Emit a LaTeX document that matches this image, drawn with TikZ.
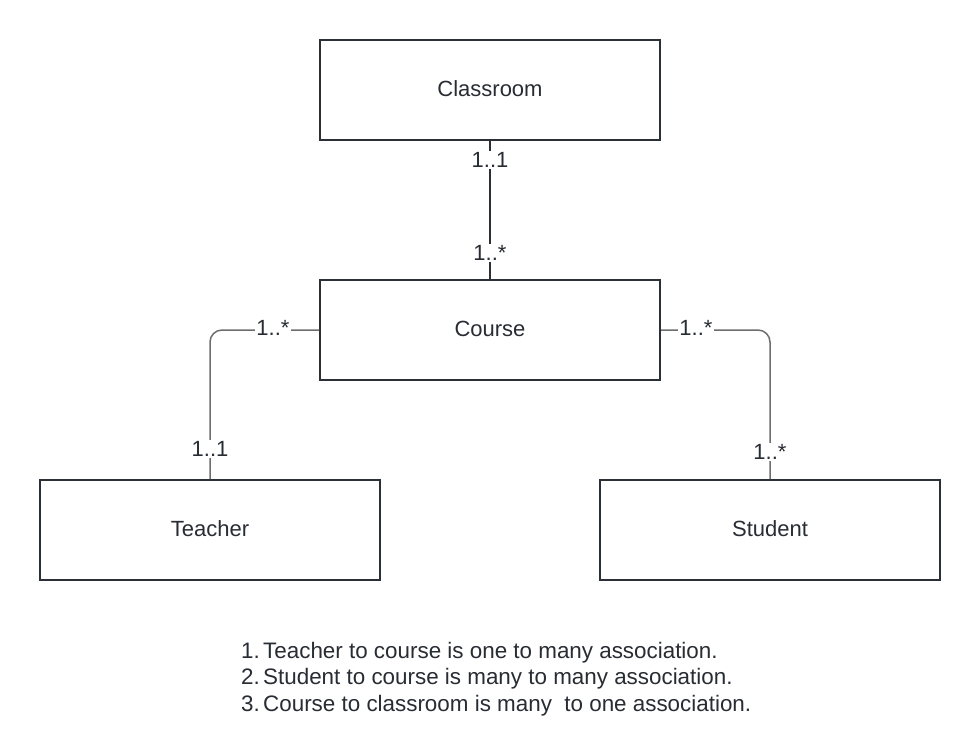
\documentclass[tikz,border=0pt]{standalone}
\usepackage{fontspec}
\setmainfont{Liberation Sans}
\begin{document}
\begin{tikzpicture}[x=1pt,y=-1pt,
  box/.style={draw=boxc,line width=2pt,minimum width=340pt,minimum height=100pt,inner sep=0pt,font=\fontsize{22}{26}\selectfont,text=txt},
  conn/.style={draw=linec,line width=1.5pt},
  mult/.style={fill=white,inner sep=1.5pt,font=\fontsize{22}{26}\selectfont,text=txt},
  listtxt/.style={anchor=base west,inner sep=0pt,font=\fontsize{22.4}{26}\selectfont,text=txt}]
\definecolor{boxc}{HTML}{2B2F36}
\definecolor{linec}{HTML}{6E6E6E}
\definecolor{txt}{HTML}{282C33}
\useasboundingbox (0,0) rectangle (980,740);
\fill[white] (0,0) rectangle (980,740);
\node[box] (classroom) at (490,90) {\raisebox{3pt}{Classroom}};
\node[box] (course) at (490,330) {\raisebox{3pt}{Course}};
\node[box] (teacher) at (210,530) {\raisebox{3pt}{Teacher}};
\node[box] (student) at (770,530) {\raisebox{3pt}{Student}};
% classroom - course
\draw[draw=boxc,line width=2pt] (classroom.south) -- (course.north)
  node[mult,pos=0.14] {1..1} node[mult,pos=0.81] {1..*};
% teacher - course
\coordinate (tc) at (210,330);
\draw[conn,rounded corners=12pt] (course.west) -- (tc) -- (teacher.north);
\node[mult] at (273,328) {1..*};
\node[mult] at (210,449) {1..1};
% student - course
\coordinate (sc) at (770,330);
\draw[conn,rounded corners=12pt] (course.east) -- (sc) -- (student.north);
\node[mult] at (696,328) {1..*};
\node[mult] at (770,452) {1..*};
% notes
\node[listtxt] (n1) at (241,658) {1.};
\node[listtxt] (t1) at (263,658) {Teacher to course is one to many association.};
\node[listtxt] (n2) at (241,684.5) {2.};
\node[listtxt] (t2) at (263,684.5) {Student to course is many to many association.};
\node[listtxt] (n3) at (241,711) {3.};
\node[listtxt] (t3) at (263,711) {Course to classroom is many \ to one association.};
\end{tikzpicture}
\end{document}
